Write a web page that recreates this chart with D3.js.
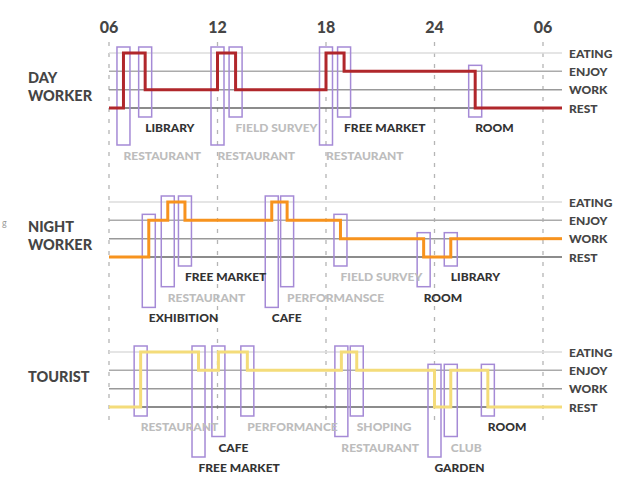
<!DOCTYPE html>
<html>
<head>
<meta charset="utf-8">
<script src="https://cdn.jsdelivr.net/npm/d3@7"></script>
<style>
	body { margin: 0; background: #fff; }
	text { font-family: Lato, "Open Sans", sans-serif; font-weight: 900; }
</style>
</head>
<body>
<svg id="chart"></svg>
<script>
// DATA

var hourTicks = [6, 12, 18, 24, 30];
var hourLabels = ["06", "12", "18", "24", "06"];
var levels = ["EATING", "ENJOY", "WORK", "REST"];

// day worker
var dayName = ["DAY", "WORKER"];
var dayTimes = [6, 6.8, 8, 12, 13, 18, 19, 26.25, 30];
var dayStates = ["REST", "EATING", "WORK", "EATING", "WORK", "EATING", "ENJOY", "REST"];
var dayPlaces = ["RESTAURANT", "LIBRARY", "RESTAURANT", "FIELD SURVEY", "RESTAURANT", "FREE MARKET", "ROOM"];
var dayRows = [1, 0, 1, 0, 1, 0, 0];
var dayDark = [0, 1, 0, 0, 0, 1, 1];

// night worker
var nightName = ["NIGHT", "WORKER"];
var nightTimes = [6, 8.2, 9.25, 10.2, 15, 15.85, 18.8, 23.4, 24.9, 30];
var nightStates = ["REST", "ENJOY", "EATING", "ENJOY", "EATING", "ENJOY", "WORK", "REST", "WORK"];
var nightPlaces = ["EXHIBITION", "RESTAURANT", "FREE MARKET", "CAFE", "PERFORMANSCE", "FIELD SURVEY", "ROOM", "LIBRARY"];
var nightRows = [2, 1, 0, 2, 1, 0, 1, 0];
var nightDark = [1, 0, 1, 1, 0, 0, 1, 1];

// tourist
var touristName = ["TOURIST"];
var touristTimes = [6, 7.75, 10.95, 12.05, 13.65, 18.85, 19.7, 24, 24.9, 26.95, 30];
var touristStates = ["REST", "EATING", "ENJOY", "EATING", "ENJOY", "EATING", "ENJOY", "REST", "ENJOY", "REST"];
var touristPlaces = ["RESTAURANT", "FREE MARKET", "CAFE", "PERFORMANCE", "RESTAURANT", "SHOPING", "GARDEN", "CLUB", "ROOM"];
var touristRows = [0, 2, 1, 0, 1, 0, 2, 1, 0];
var touristDark = [0, 1, 1, 0, 0, 0, 1, 0, 1];

// DIMENSIONS

var width = 641,
	height = 492,
	lineEnd = 562,
	boxWidth = 13;

var groups = [
	{ name: dayName, times: dayTimes, states: dayStates, places: dayPlaces, rows: dayRows, dark: dayDark,
		top: 53, rowStep: 28, color: "#b0272b" },
	{ name: nightName, times: nightTimes, states: nightStates, places: nightPlaces, rows: nightRows, dark: nightDark,
		top: 202, rowStep: 20.7, color: "#f7931e" },
	{ name: touristName, times: touristTimes, states: touristStates, places: touristPlaces, rows: touristRows, dark: touristDark,
		top: 352, rowStep: 20.5, color: "#f4dc7a" }
];

var levelColors = { EATING: "#dcdcdc", ENJOY: "#ababab", WORK: "#999", REST: "#666" };

// CHART

var svg = d3.select("#chart")
	.attr('width', width)
	.attr('height', height);

var xScale = d3.scaleLinear()
	.domain([6, 30])
	.range([109, 543]);

// hour labels + dashed guides
svg.selectAll('.hour').data(hourTicks)
	.enter().append('text')
	.attr('class', 'hour')
	.attr('x', function(d) { return xScale(d); })
	.attr('y', 33)
	.attr('text-anchor', 'middle')
	.style('font-size', '16px')
	.style('fill', '#454545')
	.text(function(d, i) { return hourLabels[i]; });

svg.selectAll('.guide').data(hourTicks)
	.enter().append('line')
	.attr('class', 'guide')
	.attr('x1', function(d) { return xScale(d); })
	.attr('x2', function(d) { return xScale(d); })
	.attr('y1', 42)
	.attr('y2', 421)
	.style('stroke', '#b5b5b5')
	.style('stroke-width', 1.3)
	.style('stroke-dasharray', '4,7');

// stray mark at the left edge
svg.append('text')
	.attr('x', 2)
	.attr('y', 226)
	.style('font-size', '9px')
	.style('font-weight', 400)
	.style('fill', '#999')
	.text('g');

groups.forEach(function(g) {
	var yScale = d3.scalePoint()
		.domain(levels)
		.range([g.top, g.top + 55]);

	var restY = yScale("REST");
	var layer = svg.append('g');

	// level lines
	layer.selectAll('.level').data(levels)
		.enter().append('line')
		.attr('x1', xScale(6))
		.attr('x2', lineEnd)
		.attr('y1', function(d) { return yScale(d); })
		.attr('y2', function(d) { return yScale(d); })
		.style('stroke', function(d) { return levelColors[d]; })
		.style('stroke-width', 1.5);

	layer.selectAll('.levelLabel').data(levels)
		.enter().append('text')
		.attr('x', 569)
		.attr('y', function(d) { return yScale(d) + 4.5; })
		.style('font-size', '12px')
		.style('fill', '#454545')
		.text(function(d) { return d; });

	// group name
	layer.selectAll('.name').data(g.name)
		.enter().append('text')
		.attr('x', 28)
		.attr('y', function(d, i) { return (g.top + restY) / 2 + 2 + i * 18; })
		.style('font-size', '14.5px')
		.style('fill', '#454545')
		.text(function(d) { return d; });

	// place boxes, one on each change of state
	var events = g.places.map(function(p, i) {
		var from = g.states[i], to = g.states[i + 1];
		var high = Math.min(yScale(from), yScale(to));
		return {
			place: p,
			t: g.times[i + 1],
			top: high - 6,
			bottom: restY + 9 + g.rows[i] * g.rowStep,
			dark: g.dark[i]
		};
	});

	layer.selectAll('.box').data(events)
		.enter().append('rect')
		.attr('x', function(d) { return xScale(d.t) - boxWidth / 2; })
		.attr('y', function(d) { return d.top; })
		.attr('width', boxWidth)
		.attr('height', function(d) { return d.bottom - d.top; })
		.style('fill', 'none')
		.style('stroke', '#a58ad6')
		.style('stroke-width', 1.5);

	layer.selectAll('.place').data(events)
		.enter().append('text')
		.attr('x', function(d) { return xScale(d.t); })
		.attr('y', function(d) { return d.bottom + 15; })
		.style('font-size', '12px')
		.style('fill', function(d) { return d.dark ? '#333' : '#bdbdbd'; })
		.text(function(d) { return d.place; });

	// step line
	var pts = g.times.map(function(t, i) {
		return [t, g.states[Math.min(i, g.states.length - 1)]];
	});

	var step = d3.line()
		.x(function(d) { return xScale(d[0]); })
		.y(function(d) { return yScale(d[1]); })
		.curve(d3.curveStepAfter);

	layer.append('path')
		.datum(pts)
		.attr('d', step)
		.style('fill', 'none')
		.style('stroke', g.color)
		.style('stroke-width', 3);

	// line runs on to the end of the level lines
	layer.append('line')
		.attr('x1', xScale(30))
		.attr('x2', lineEnd)
		.attr('y1', yScale(g.states[g.states.length - 1]))
		.attr('y2', yScale(g.states[g.states.length - 1]))
		.style('stroke', g.color)
		.style('stroke-width', 3);
});
</script>
</body>
</html>
